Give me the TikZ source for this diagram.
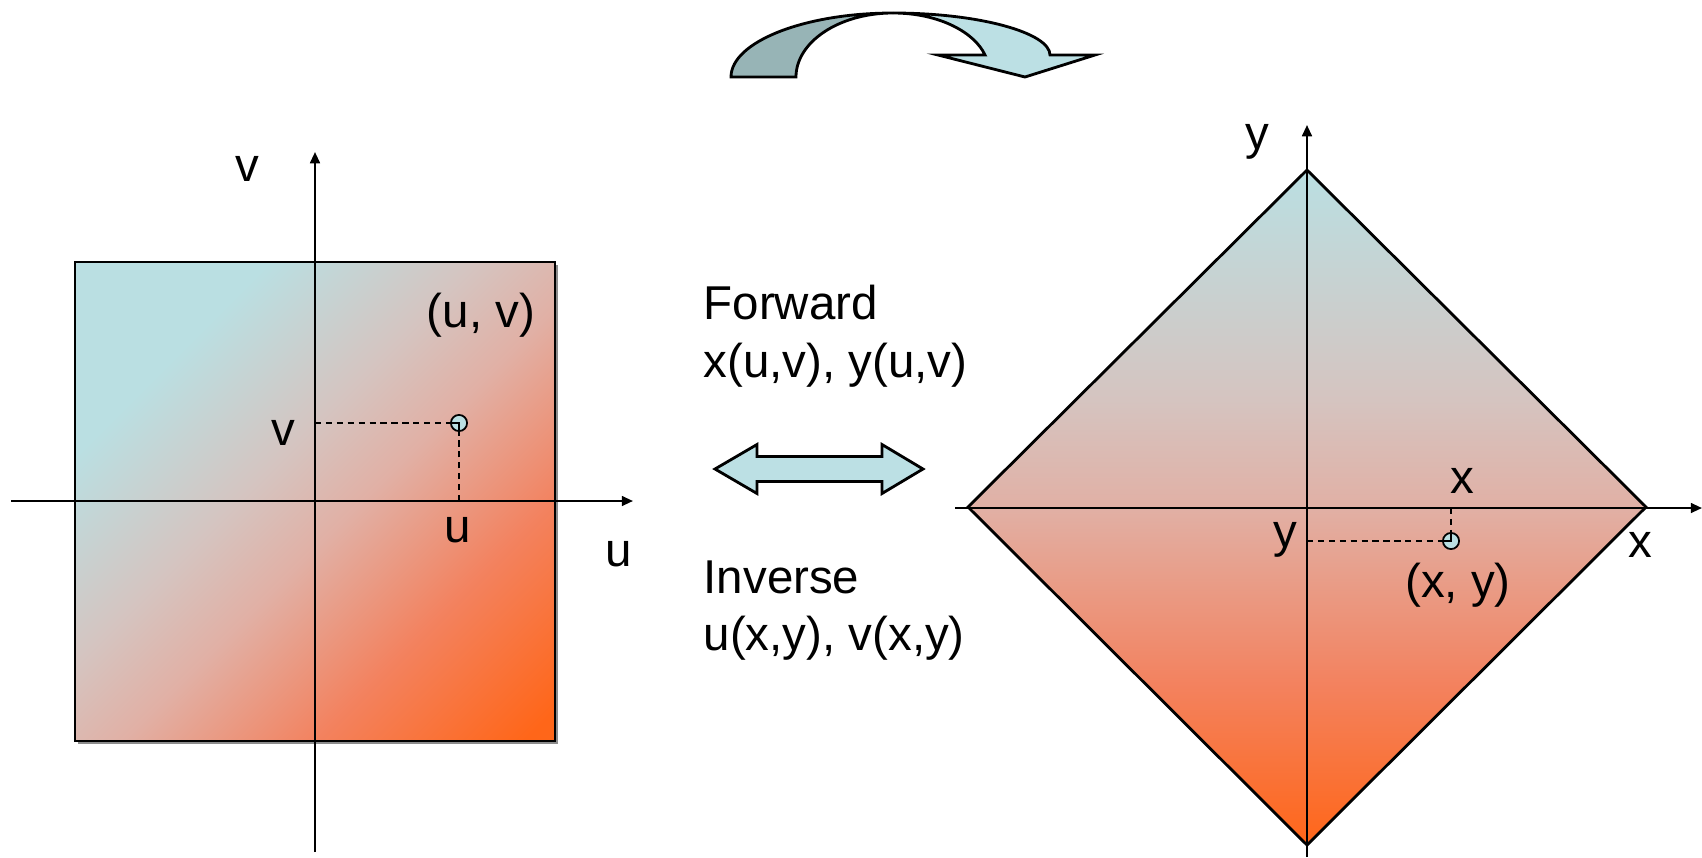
\documentclass[tikz,border=0pt]{standalone}
\usepackage{fontspec}
\setmainfont{Liberation Sans}
\usetikzlibrary{arrows.meta}

\definecolor{cian}{RGB}{186,223,226}
\definecolor{gris}{RGB}{213,196,192}
\definecolor{salmon}{RGB}{225,176,165}
\definecolor{coral}{RGB}{243,130,95}
\definecolor{naranja}{RGB}{255,102,25}
\definecolor{flechaosc}{RGB}{151,180,182}
\definecolor{flechacla}{RGB}{188,224,228}

\pgfdeclareverticalshading{degradado}{100bp}{color(0bp)=(naranja); color(25bp)=(naranja); color(37bp)=(coral); color(50bp)=(salmon); color(58bp)=(gris); color(75bp)=(cian); color(100bp)=(cian)}
% mismo degradado, estirado para la diagonal del cuadrado
\pgfdeclareverticalshading{degradadodiag}{100bp}{color(0bp)=(naranja); color(16.7bp)=(naranja); color(32.3bp)=(coral); color(46.5bp)=(salmon); color(55.7bp)=(gris); color(71.2bp)=(cian); color(100bp)=(cian)}

\tikzset{
  eje/.style={line width=0.6pt, -{Triangle[length=3.2pt,width=2.8pt]}},
  borde/.style={line width=0.8pt},
  guia/.style={line width=0.5pt, dash pattern=on 1.8pt off 1.3pt},
  punto/.style={circle, draw, line width=0.5pt, fill=cian, minimum size=4.6pt, inner sep=0pt},
  etiq/.style={font=\fontsize{13.5}{16}\selectfont, inner sep=0pt}
}

\begin{document}
\begin{tikzpicture}[x=0.01cm, y=-0.01cm]
  \useasboundingbox (0,0) rectangle (1702,857);

  % Flecha curva superior
  \draw[borde, fill=flechaosc] (731,77) .. controls (731,42) and (804,13) .. (893,13)
    .. controls (839,13) and (796,42) .. (796,77) -- cycle;
  \draw[borde, fill=flechacla] (893,13) .. controls (980,13) and (1050,33) .. (1050,55)
    -- (1095,55) -- (1025,77) -- (938,55) -- (985,55)
    .. controls (975,33) and (940,13) .. (893,13) -- cycle;

  % Dominio (u,v): cuadrado con sombra
  \fill[black!45] (78,265) rectangle (558,744);
  \shade[shading=degradadodiag, shading angle=45] (75,262) rectangle (555,741);
  \draw[borde] (75,262) rectangle (555,741);

  \coordinate (uizq) at (11,501);
  \coordinate (uder) at (633,501);
  \coordinate (vabj) at (315,852);
  \coordinate (varr) at (315,152);
  \draw[eje] (uizq) -- (uder);
  \draw[eje] (vabj) -- (varr);

  \node[punto] (puv) at (459,423) {};
  \coordinate (pv) at (315,423);
  \coordinate (pu) at (459,501);
  \draw[guia] (pv) -- (puv.center);
  \draw[guia] (pu) -- (puv.center);
  \draw[line width=0.5pt] (puv.west) -- (puv.center) -- (puv.south);

  \node[etiq, anchor=base] (lv) at (247,181) {v};
  \node[etiq, anchor=base] (lu) at (619,566) {u};
  \node[etiq, anchor=base] (luv) at (481,327) {(u, v)};
  \node[etiq, anchor=base] (lvv) at (283,445) {v};
  \node[etiq, anchor=base] (luu) at (458,542) {u};

  % Textos centrales y flecha doble
  \node[etiq, anchor=base west] (fwd) at (703,319) {Forward};
  \node[etiq, anchor=base west] (fwdf) at (703,377) {x(u,v), y(u,v)};
  \node[etiq, anchor=base west] (inv) at (703,593) {Inverse};
  \node[etiq, anchor=base west] (invf) at (703,650) {u(x,y), v(x,y)};

  \draw[borde, fill=flechacla] (715,469) -- (757,444.5) -- (757,456.5) -- (882,456.5)
    -- (882,444.5) -- (923,469) -- (882,493.5) -- (882,481.5) -- (757,481.5)
    -- (757,493.5) -- cycle;

  % Dominio (x,y): rombo
  \coordinate (rizq) at (968,507);
  \coordinate (rarr) at (1307,170);
  \coordinate (rder) at (1646,507);
  \coordinate (rabj) at (1307,845);
  \shade[shading=degradado] (rizq) -- (rarr) -- (rder) -- (rabj) -- cycle;
  \draw[borde] (rizq) -- (rarr) -- (rder) -- (rabj) -- cycle;

  \coordinate (xizq) at (955,508);
  \coordinate (xder) at (1702,508);
  \coordinate (yabj) at (1307,857);
  \coordinate (yarr) at (1307,125);
  \draw[eje] (xizq) -- (xder);
  \draw[eje] (yabj) -- (yarr);

  \node[punto] (pxy) at (1451,541) {};
  \coordinate (py) at (1307,541);
  \coordinate (px) at (1451,508);
  \draw[guia] (py) -- (pxy.center);
  \draw[guia] (px) -- (pxy.center);
  \draw[line width=0.5pt] (pxy.west) -- (pxy.center) -- (pxy.north);

  \node[etiq, anchor=base] (ly) at (1257,149) {y};
  \node[etiq, anchor=base] (lx) at (1640,557) {x};
  \node[etiq, anchor=base] (lxx) at (1462,493) {x};
  \node[etiq, anchor=base] (lyy) at (1285,547) {y};
  \node[etiq, anchor=base] (lxy) at (1458,597) {(x, y)};
\end{tikzpicture}
\end{document}
